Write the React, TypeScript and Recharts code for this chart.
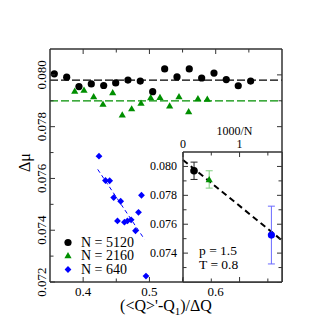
import React from "react";
import {
  ScatterChart,
  Scatter,
  XAxis,
  YAxis,
  ReferenceLine,
  ErrorBar,
  Legend,
  CartesianGrid,
  Label,
} from "recharts";

const FONT = '"Liberation Serif", "Times New Roman", serif';
const AXIS = "#333";
const GREEN = "#008f00";
const BLUE = "#0000ff";

// N = 5120
const q5120 = [0.3565, 0.3752, 0.3937, 0.4123, 0.431, 0.4491, 0.4676, 0.4862, 0.5049, 0.523, 0.5416, 0.5601, 0.5788, 0.5974, 0.6159, 0.634, 0.6527];
const mu5120 = [0.08004, 0.07991, 0.07955, 0.07965, 0.07959, 0.07969, 0.0798, 0.07976, 0.07935, 0.08023, 0.07992, 0.08023, 0.07988, 0.08007, 0.07982, 0.07958, 0.07976];

// N = 2160
const q2160 = [0.3873, 0.4013, 0.4159, 0.4299, 0.4446, 0.459, 0.4732, 0.4873, 0.5019, 0.5159, 0.5305, 0.5446, 0.5592, 0.5732, 0.5873];
const mu2160 = [0.07938, 0.07942, 0.07917, 0.07888, 0.07932, 0.07846, 0.0787, 0.07892, 0.07913, 0.07914, 0.07881, 0.07917, 0.07859, 0.07909, 0.07907];

// N = 640
const q640 = [0.4239, 0.4337, 0.44, 0.4461, 0.4566, 0.488, 0.4835, 0.4518, 0.4623, 0.4668, 0.4724, 0.479, 0.4948];
const mu640 = [0.07686, 0.07592, 0.07591, 0.07526, 0.07512, 0.07535, 0.07469, 0.07436, 0.07431, 0.07436, 0.0744, 0.07398, 0.07223];

// plateau levels and the fit for N = 640
const level5120 = 0.0798;
const level2160 = 0.079;
const fit640Q = [0.422, 0.4925];
const fit640Mu = [0.07635, 0.07365];

// inset: mu vs 1000/N
const invN = [0.195, 0.463, 1.5625];
const muN = [0.0797, 0.0791, 0.07525];
const muErr = [0.0006, 0.0006, 0.002];
const insetColors = ["#000", GREEN, BLUE];
const insetErrColors = ["#222", "#7fcf7f", "#6a6aff"];
const fitInvN = [0, 1.75];
const fitMu = [0.08045, 0.07488];

const mainXTicks = [0.4, 0.45, 0.5, 0.55, 0.6, 0.65];
const mainXMajor = [0.4, 0.5, 0.6];
const mainYTicks = [0.072, 0.073, 0.074, 0.075, 0.076, 0.077, 0.078, 0.079, 0.08];
const mainYMajor = [0.072, 0.074, 0.076, 0.078, 0.08];
const insetXTicks = [0, 0.5, 1, 1.5];
const insetXMajor = [0, 1];
const insetYTicks = [0.073, 0.074, 0.075, 0.076, 0.077, 0.078, 0.079, 0.08];
const insetYMajor = [0.074, 0.076, 0.078, 0.08];

const legendItems = [
  { label: "N = 5120", color: "#000", kind: "circle" },
  { label: "N = 2160", color: GREEN, kind: "triangle" },
  { label: "N = 640", color: BLUE, kind: "diamond" },
];

const zip = (xs: number[], ys: number[]) => xs.map((x, i) => ({ x, y: ys[i] }));

const circle = (color: string, r = 3.6) => (p: any) => <circle cx={p.cx} cy={p.cy} r={r} fill={color} />;
const triangle = (color: string) => (p: any) => (
  <polygon points={`${p.cx},${p.cy - 3.4} ${p.cx - 3.6},${p.cy + 2.8} ${p.cx + 3.6},${p.cy + 2.8}`} fill={color} />
);
const diamond = (color: string) => (p: any) => (
  <polygon points={`${p.cx},${p.cy - 3.4} ${p.cx + 3.4},${p.cy} ${p.cx},${p.cy + 3.4} ${p.cx - 3.4},${p.cy}`} fill={color} />
);

type Side = "left" | "right" | "top" | "bottom";

// inward ticks, labels only on major ticks
const tickFor = (side: Side, majors: number[], fmt: ((v: number) => string) | null, mode = "plain", fontSize = 13) =>
  (props: any) => {
    const { x, y, payload } = props;
    const v = Number(payload.value);
    const isMajor = majors.some((m) => Math.abs(m - v) < 1e-9);
    const len = isMajor ? 5 : 3.5;
    let seg = { x1: x, y1: y, x2: x, y2: y };
    if (side === "left") seg = { x1: x, y1: y, x2: x + len, y2: y };
    if (side === "right") seg = { x1: x, y1: y, x2: x - len, y2: y };
    if (side === "top") seg = { x1: x, y1: y, x2: x, y2: y + len };
    if (side === "bottom") seg = { x1: x, y1: y, x2: x, y2: y - len };
    let text = null;
    if (fmt && isMajor) {
      const common = { fontFamily: FONT, fontSize, fill: "#000" };
      if (side === "left" && mode === "rot") {
        text = (
          <text {...common} x={x - 4} y={y} textAnchor="middle" transform={`rotate(-90 ${x - 4} ${y})`}>
            {fmt(v)}
          </text>
        );
      } else if (side === "left") {
        text = (
          <text {...common} x={x - 6} y={y + 4} textAnchor="end">
            {fmt(v)}
          </text>
        );
      } else if (side === "top") {
        text = (
          <text {...common} x={x} y={y - 4} textAnchor="middle">
            {fmt(v)}
          </text>
        );
      } else {
        text = (
          <text {...common} x={x} y={y + 14} textAnchor="middle">
            {fmt(v)}
          </text>
        );
      }
    }
    return (
      <g>
        <line {...seg} stroke={AXIS} strokeWidth={1} />
        {text}
      </g>
    );
  };

const axisLine = { stroke: AXIS, strokeWidth: 1.5 };

const XTitle = (props: any) => {
  const vb = props.viewBox;
  return (
    <text x={vb.x + vb.width / 2} y={vb.y + 28.5} textAnchor="middle" fontFamily={FONT} fontSize={16} fill="#000">
      {"(<Q>'-Q"}
      <tspan fontSize={11} dy={4}>1</tspan>
      <tspan dy={-4}>{")/ΔQ"}</tspan>
    </text>
  );
};

const YTitle = (props: any) => {
  const vb = props.viewBox;
  const cx = vb.x + vb.width - 20;
  const cy = vb.y + vb.height / 2 - 3;
  return (
    <text x={cx} y={cy} textAnchor="middle" fontFamily={FONT} fontSize={16} fill="#000" transform={`rotate(-90 ${cx} ${cy})`}>
      Δμ
    </text>
  );
};

const InsetTopTitle = (props: any) => {
  const vb = props.viewBox;
  return (
    <text x={vb.x + vb.width * 0.52} y={vb.y + vb.height - 17} textAnchor="middle" fontFamily={FONT} fontSize={12} fill="#000">
      1000/N
    </text>
  );
};

const InsetNote = (props: any) => {
  const vb = props.viewBox;
  return (
    <g fontFamily={FONT} fontSize={13.5} fill="#000">
      <text x={vb.x + 16} y={vb.y - 27}>p = 1.5</text>
      <text x={vb.x + 16} y={vb.y - 13.5}>T = 0.8</text>
    </g>
  );
};

const LegendBox = () => (
  <div style={{ fontFamily: FONT, fontSize: 14, color: "#000" }}>
    {legendItems.map((it) => (
      <div key={it.label} style={{ display: "flex", alignItems: "center", height: 13.3, lineHeight: "13.3px" }}>
        <svg width={14} height={13} style={{ marginRight: 6 }}>
          {it.kind === "circle" && <circle cx={7} cy={6.5} r={3.6} fill={it.color} />}
          {it.kind === "triangle" && <polygon points="7,3.1 3.4,9.3 10.6,9.3" fill={it.color} />}
          {it.kind === "diamond" && <polygon points="7,3.1 10.4,6.5 7,9.9 3.6,6.5" fill={it.color} />}
        </svg>
        <span>{it.label}</span>
      </div>
    ))}
  </div>
);

const fmt3 = (v: number) => v.toFixed(3);
const fmt1 = (v: number) => v.toFixed(1);
const fmt0 = (v: number) => v.toFixed(0);

const axisCommon = {
  type: "number" as const,
  interval: 0 as const,
  tickSize: 0,
  tickMargin: 0,
  tickLine: false,
  axisLine,
  allowDataOverflow: true,
};

export default function App() {
  const d5120 = zip(q5120, mu5120);
  const d2160 = zip(q2160, mu2160);
  const d640 = zip(q640, mu640);
  const inset = invN.map((x, i) => ({ x, y: muN[i], err: muErr[i] }));

  return (
    <div style={{ position: "absolute", left: 0, top: 0, width: 332, height: 332, background: "#fff" }}>
      <div style={{ position: "absolute", left: 0, top: 0 }}>
        <ScatterChart width={332} height={332} margin={{ top: 48, right: 49, bottom: 49, left: 49 }}>
          <XAxis {...axisCommon} dataKey="x" domain={[0.35, 0.7]} ticks={mainXTicks} height={1}
            tick={tickFor("bottom", mainXMajor, fmt1)}>
            <Label content={XTitle} />
          </XAxis>
          <XAxis {...axisCommon} xAxisId="top" orientation="top" dataKey="x" domain={[0.35, 0.7]} ticks={mainXTicks}
            height={1} tick={tickFor("top", mainXMajor, null)} />
          <YAxis {...axisCommon} dataKey="y" domain={[0.072, 0.081]} ticks={mainYTicks} width={1}
            tick={tickFor("left", mainYMajor, fmt3, "rot")}>
            <Label content={YTitle} />
          </YAxis>
          <YAxis {...axisCommon} yAxisId="right" orientation="right" dataKey="y" domain={[0.072, 0.081]} ticks={mainYTicks}
            width={1} tick={tickFor("right", mainYMajor, null)} />
          <ReferenceLine y={level5120} stroke="#000" strokeWidth={1.3} strokeDasharray="8 3" />
          <ReferenceLine y={level2160} stroke={GREEN} strokeWidth={1.3} strokeDasharray="8 3" />
          <ReferenceLine
            segment={[{ x: fit640Q[0], y: fit640Mu[0] }, { x: fit640Q[1], y: fit640Mu[1] }]}
            stroke={BLUE} strokeWidth={1} strokeDasharray="4 3" ifOverflow="visible" />
          <Scatter data={d5120} shape={circle("#000")} isAnimationActive={false} />
          <Scatter data={d2160} shape={triangle(GREEN)} isAnimationActive={false} />
          <Scatter data={d640} shape={diamond(BLUE)} isAnimationActive={false} />
          <Legend layout="vertical" align="center" verticalAlign="middle" content={LegendBox}
            wrapperStyle={{ left: 61, top: 236, width: 100 }} />
        </ScatterChart>
      </div>
      <div style={{ position: "absolute", left: 0, top: 0 }}>
        <ScatterChart width={332} height={332} margin={{ top: 151, right: 49, bottom: 49, left: 182 }}>
          <CartesianGrid horizontal={false} vertical={false} fill="#fff" fillOpacity={1} />
          <XAxis {...axisCommon} xAxisId="top" orientation="top" dataKey="x" domain={[0, 1.75]} ticks={insetXTicks}
            height={1} tick={tickFor("top", insetXMajor, fmt0, "plain", 12)}>
            <Label content={InsetTopTitle} />
          </XAxis>
          <XAxis {...axisCommon} dataKey="x" domain={[0, 1.75]} ticks={insetXTicks} height={1}
            tick={tickFor("bottom", insetXMajor, null)}>
            <Label content={InsetNote} />
          </XAxis>
          <YAxis {...axisCommon} dataKey="y" domain={[0.072, 0.081]} ticks={insetYTicks} width={1}
            tick={tickFor("left", insetYMajor, fmt3, "plain", 12)} />
          <YAxis {...axisCommon} yAxisId="right" orientation="right" dataKey="y" domain={[0.072, 0.081]} ticks={insetYTicks}
            width={1} tick={tickFor("right", insetYMajor, null)} />
          <ReferenceLine
            segment={[{ x: fitInvN[0], y: fitMu[0] }, { x: fitInvN[1], y: fitMu[1] }]}
            stroke="#000" strokeWidth={2} strokeDasharray="6 4" ifOverflow="visible" />
          <Scatter data={[inset[0]]} shape={circle(insetColors[0], 3.8)} isAnimationActive={false}>
            <ErrorBar dataKey="err" direction="y" width={3.5} stroke={insetErrColors[0]} strokeWidth={1} />
          </Scatter>
          <Scatter data={[inset[1]]} shape={triangle(insetColors[1])} isAnimationActive={false}>
            <ErrorBar dataKey="err" direction="y" width={3.5} stroke={insetErrColors[1]} strokeWidth={1} />
          </Scatter>
          <Scatter data={[inset[2]]} shape={circle(insetColors[2], 3.6)} isAnimationActive={false}>
            <ErrorBar dataKey="err" direction="y" width={3.5} stroke={insetErrColors[2]} strokeWidth={1} />
          </Scatter>
        </ScatterChart>
      </div>
    </div>
  );
}
